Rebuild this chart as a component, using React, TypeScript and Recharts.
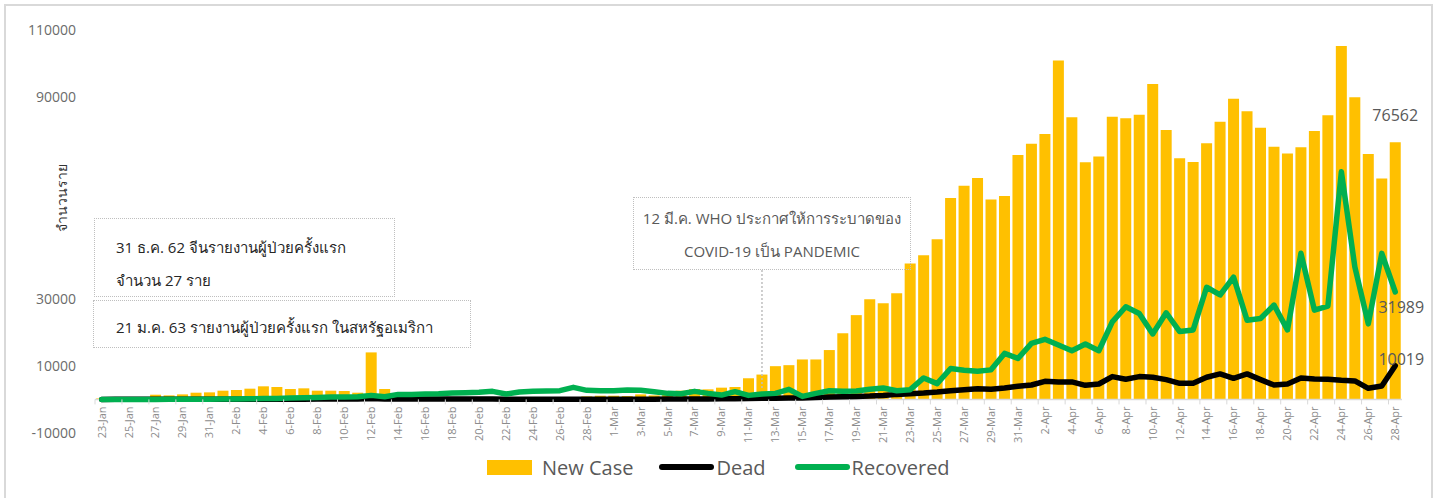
import React from 'react';
import {
  ComposedChart,
  Bar,
  Line,
  XAxis,
  YAxis,
  Legend,
  ReferenceLine,
  LabelList,
} from 'recharts';

const dates = [
  '23-Jan', '24-Jan', '25-Jan', '26-Jan', '27-Jan', '28-Jan', '29-Jan', '30-Jan', '31-Jan',
  '1-Feb', '2-Feb', '3-Feb', '4-Feb', '5-Feb', '6-Feb', '7-Feb', '8-Feb', '9-Feb', '10-Feb',
  '11-Feb', '12-Feb', '13-Feb', '14-Feb', '15-Feb', '16-Feb', '17-Feb', '18-Feb', '19-Feb', '20-Feb',
  '21-Feb', '22-Feb', '23-Feb', '24-Feb', '25-Feb', '26-Feb', '27-Feb', '28-Feb', '29-Feb',
  '1-Mar', '2-Mar', '3-Mar', '4-Mar', '5-Mar', '6-Mar', '7-Mar', '8-Mar', '9-Mar', '10-Mar',
  '11-Mar', '12-Mar', '13-Mar', '14-Mar', '15-Mar', '16-Mar', '17-Mar', '18-Mar', '19-Mar', '20-Mar',
  '21-Mar', '22-Mar', '23-Mar', '24-Mar', '25-Mar', '26-Mar', '27-Mar', '28-Mar', '29-Mar', '30-Mar', '31-Mar',
  '1-Apr', '2-Apr', '3-Apr', '4-Apr', '5-Apr', '6-Apr', '7-Apr', '8-Apr', '9-Apr', '10-Apr',
  '11-Apr', '12-Apr', '13-Apr', '14-Apr', '15-Apr', '16-Apr', '17-Apr', '18-Apr', '19-Apr', '20-Apr',
  '21-Apr', '22-Apr', '23-Apr', '24-Apr', '25-Apr', '26-Apr', '27-Apr', '28-Apr',
];

const newCase = [
  300, 250, 700, 700, 1400, 1200, 1500, 2000, 2100,
  2600, 2800, 3200, 3900, 3700, 3100, 3300, 2600, 2600, 2500,
  2000, 14000, 3100, 1700, 600, 500, 450, 500, 400, 450,
  600, 500, 450, 400, 500, 600, 600, 900, 1100,
  1100, 1000, 1500, 1200, 2100, 2600, 3100, 3000, 3500, 3700,
  6300, 7400, 9900, 10200, 11900, 11900, 14700, 19700, 25100, 29800,
  28600, 31600, 40500, 42900, 47700, 60000, 63600, 65900, 59500, 60600, 72800,
  76100, 79000, 100900, 84000, 70600, 72300, 84200, 83700, 84800, 93900,
  80200, 71800, 70700, 76300, 82700, 89500, 85800, 80900, 75200, 73200,
  75100, 79900, 84600, 105200, 90000, 73100, 65800, 76562,
];

const dead = [
  10, 15, 15, 25, 25, 25, 40, 40, 45,
  45, 55, 65, 65, 75, 75, 85, 90, 95, 110,
  100, 250, 120, 140, 140, 105, 100, 110, 100, 120,
  110, 80, 50, 70, 60, 45, 60, 60, 70,
  70, 75, 85, 85, 100, 110, 110, 110, 230, 220,
  280, 330, 350, 400, 450, 550, 700, 800, 900, 1000,
  1200, 1500, 1700, 1900, 2200, 2600, 2900, 3200, 3000, 3400, 3900,
  4300, 5400, 5200, 5200, 4200, 4600, 6800, 6000, 6800, 6600,
  5900, 4800, 4800, 6600, 7600, 6300, 7600, 5900, 4300, 4600,
  6400, 6100, 6000, 5700, 5500, 3300, 4000, 10019,
];

const recovered = [
  0, 0, 0, 0, 10, 20, 30, 40, 50,
  100, 150, 200, 250, 300, 400, 500, 600, 700, 700,
  800, 1200, 800, 1500, 1500, 1600, 1700, 1900, 2000, 2100,
  2400, 1600, 2200, 2400, 2500, 2600, 3600, 2700, 2600,
  2600, 2800, 2700, 2300, 1800, 1700, 2400, 1800, 1300, 2300,
  1200, 1600, 1800, 3000, 900, 1800, 2600, 2400, 2500, 3000,
  3400, 2600, 2900, 6400, 4700, 9200, 8700, 8400, 8800, 13700, 12200,
  16700, 17900, 16200, 14500, 16500, 14500, 23100, 27600, 25600, 19500,
  25800, 20200, 20700, 33400, 31100, 36400, 23600, 24100, 28100, 20700,
  43500, 26600, 27800, 67800, 39500, 22500, 43500, 31989,
];

const yTicks = [-10000, 10000, 30000, 50000, 70000, 90000, 110000];
const hiddenTicks = [50000, 70000];
const legendOrder = ['newCase', 'dead', 'recovered'];

const data = dates.map((d, i) => ({
  date: d,
  newCase: newCase[i],
  dead: dead[i],
  recovered: recovered[i],
}));

const W = 1437;
const H = 498;
const Y_MIN = -10000;
const Y_MAX = 110000;
const PLOT_W = 1307;
const PLOT_H = 403;
const FONT = "'Open Sans', 'Noto Sans', Tahoma, sans-serif";

function DateTick(props: any) {
  const { x, y, payload } = props;
  const zeroY = y - (PLOT_H * (0 - Y_MIN)) / (Y_MAX - Y_MIN);
  const band = PLOT_W / dates.length;
  return (
    <g>
      <line x1={x - band / 2} x2={x - band / 2} y1={zeroY} y2={zeroY + 5} stroke="#d9d9d9" />
      <text
        transform={`translate(${x},${zeroY + 7}) rotate(-90)`}
        textAnchor="end"
        dy="0.35em"
        fontSize={11}
        fill="#8c8c8c"
        fontFamily={FONT}
      >
        {payload.value}
      </text>
    </g>
  );
}

function ValueTick(props: any) {
  const { x, y, payload } = props;
  if (hiddenTicks.includes(payload.value)) return <g />;
  return (
    <text x={x} y={y} dy="0.35em" textAnchor="end" fontSize={14} fill="#6b6b6b" fontFamily={FONT}>
      {payload.value}
    </text>
  );
}

function AxisTitle(props: any) {
  const vb = props.viewBox;
  return (
    <text
      transform={`translate(${vb.x + 37},${vb.y + 168}) rotate(-90)`}
      textAnchor="middle"
      dy="0.35em"
      fontSize={14}
      fill="#333"
      fontFamily={FONT}
    >
      จำนวนราย
    </text>
  );
}

const endLabel = (dx: number, dy: number, isBar: boolean) => (props: any) => {
  const { x, y, width, index, value } = props;
  if (index !== dates.length - 1) return null;
  const cx = isBar ? x + width / 2 : x;
  return (
    <text
      x={cx + dx}
      y={y + dy}
      textAnchor="middle"
      dominantBaseline="central"
      fontSize={16}
      fill="#595959"
      fontFamily={FONT}
    >
      {value}
    </text>
  );
};

function LegendContent(props: any) {
  const items = [...(props.payload || [])].sort(
    (a: any, b: any) => legendOrder.indexOf(a.dataKey) - legendOrder.indexOf(b.dataKey)
  );
  return (
    <div
      style={{
        display: 'flex',
        alignItems: 'center',
        height: 30,
        paddingLeft: 487,
        fontSize: 20,
        color: '#595959',
        fontFamily: FONT,
      }}
    >
      {items.map((it: any) => {
        const isBar = it.dataKey === 'newCase';
        return (
          <div key={it.value} style={{ display: 'flex', alignItems: 'center', marginRight: isBar ? 26 : 29 }}>
            {isBar ? (
              <div style={{ width: 45, height: 15, background: it.color, marginRight: 10 }} />
            ) : (
              <div style={{ width: 55, height: 6, borderRadius: 3, background: it.color, marginRight: 2 }} />
            )}
            <span>{it.value}</span>
          </div>
        );
      })}
    </div>
  );
}

const boxStyle: React.CSSProperties = {
  position: 'absolute',
  border: '1.5px dotted #bfbfbf',
  boxSizing: 'border-box',
  fontFamily: FONT,
  fontSize: 15,
  pointerEvents: 'none',
};

export default function App() {
  return (
    <div style={{ position: 'relative', width: W, height: H, background: '#fff', overflow: 'hidden' }}>
      <style>{'body{margin:0;}'}</style>
      <ComposedChart
        width={W}
        height={H}
        data={data}
        margin={{ top: 30, right: 35, left: 25, bottom: 16 }}
        barCategoryGap="9%"
      >
        <XAxis
          dataKey="date"
          interval={1}
          axisLine={false}
          tickLine={false}
          tickSize={0}
          tickMargin={0}
          height={19}
          tick={<DateTick />}
        />
        <YAxis
          width={70}
          domain={[Y_MIN, Y_MAX]}
          ticks={yTicks}
          axisLine={false}
          tickLine={false}
          tickMargin={13}
          tick={<ValueTick />}
          label={(p: any) => <AxisTitle {...p} />}
        />
        <ReferenceLine y={0} stroke="#d9d9d9" strokeWidth={1.5} />
        <Bar dataKey="newCase" name="New Case" fill="#FFC000" isAnimationActive={false}>
          <LabelList dataKey="newCase" content={endLabel(0, -27, true)} />
        </Bar>
        <Line
          dataKey="dead"
          name="Dead"
          stroke="#000000"
          strokeWidth={5.5}
          dot={false}
          activeDot={false}
          strokeLinejoin="round"
          strokeLinecap="round"
          isAnimationActive={false}
        >
          <LabelList dataKey="dead" content={endLabel(6, -7, false)} />
        </Line>
        <Line
          dataKey="recovered"
          name="Recovered"
          stroke="#00B050"
          strokeWidth={5.5}
          dot={false}
          activeDot={false}
          strokeLinejoin="round"
          strokeLinecap="round"
          isAnimationActive={false}
        >
          <LabelList dataKey="recovered" content={endLabel(6, 15, false)} />
        </Line>
        <ReferenceLine
          segment={[
            { x: '12-Mar', y: 38500 },
            { x: '12-Mar', y: 3400 },
          ]}
          stroke="#bfbfbf"
          strokeWidth={1.5}
          strokeDasharray="2 2"
        />
        <Legend
          verticalAlign="bottom"
          height={30}
          wrapperStyle={{ left: 0, width: W }}
          content={<LegendContent />}
        />
      </ComposedChart>

      <div style={{ ...boxStyle, left: 94, top: 218, width: 301, height: 79, color: '#262626' }}>
        <div style={{ position: 'absolute', left: 21, top: 17, whiteSpace: 'nowrap' }}>
          31 ธ.ค. 62 จีนรายงานผู้ป่วยครั้งแรก
        </div>
        <div style={{ position: 'absolute', left: 21, top: 50, whiteSpace: 'nowrap' }}>จำนวน 27 ราย</div>
      </div>
      <div style={{ ...boxStyle, left: 93, top: 300, width: 378, height: 48, color: '#262626' }}>
        <div style={{ position: 'absolute', left: 22, top: 15, whiteSpace: 'nowrap' }}>
          21 ม.ค. 63 รายงานผู้ป่วยครั้งแรก ในสหรัฐอเมริกา
        </div>
      </div>
      <div style={{ ...boxStyle, left: 633, top: 197, width: 278, height: 73, color: '#595959', textAlign: 'center' }}>
        <div style={{ position: 'absolute', left: 0, right: 0, top: 9, whiteSpace: 'nowrap' }}>
          12 มี.ค. WHO ประกาศให้การระบาดของ
        </div>
        <div style={{ position: 'absolute', left: 0, right: 0, top: 42, whiteSpace: 'nowrap' }}>
          COVID-19 เป็น PANDEMIC
        </div>
      </div>

      <div
        style={{
          position: 'absolute',
          left: 4,
          top: 4,
          width: 1429,
          height: 520,
          border: '2px solid #d9d9d9',
          boxSizing: 'border-box',
          pointerEvents: 'none',
        }}
      />
    </div>
  );
}
